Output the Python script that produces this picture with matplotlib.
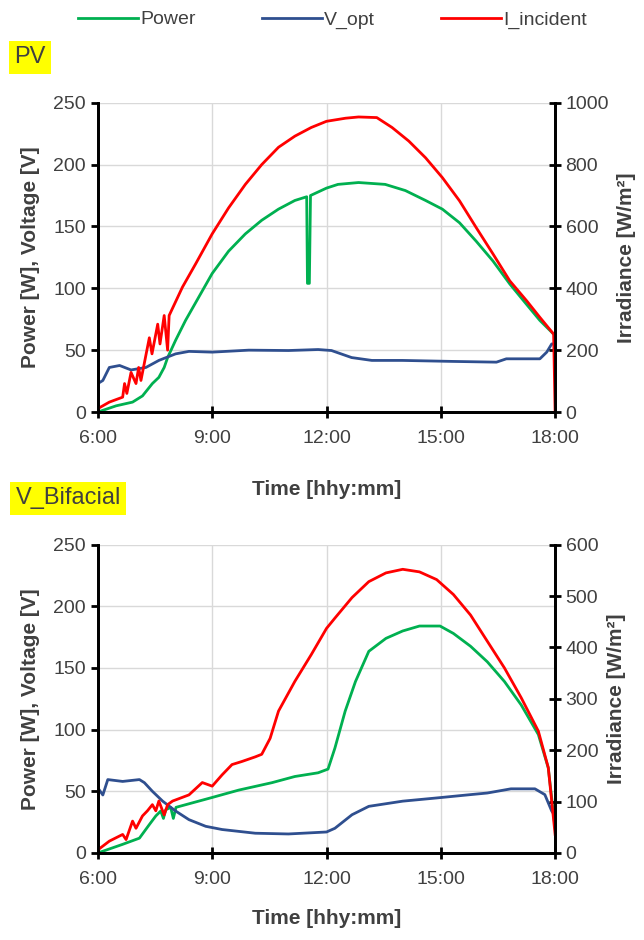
import matplotlib
matplotlib.use("Agg")
import matplotlib.pyplot as plt

plt.rcParams['font.family'] = ['Liberation Sans', 'DejaVu Sans']

# ---- PV (top) ----
pv_power_t = [6.0, 6.48, 6.91, 7.17, 7.43, 7.6, 7.74, 7.83, 8.04, 8.3, 8.65, 9.0, 9.43, 9.87,
              10.3, 10.74, 11.17, 11.48, 11.5, 11.55, 11.58, 12.0, 12.3, 12.84, 13.54, 14.07,
              14.6, 15.04, 15.49, 15.93, 16.37, 16.81, 17.25, 17.6, 17.96]
pv_power = [0, 5, 8, 13, 23, 28, 36, 44, 58, 74, 93, 112, 130, 144,
            155, 164, 171, 174, 104, 104, 175, 181, 184, 185.5, 184, 179,
            171, 164, 153, 138, 122, 103.5, 87, 74, 63]

pv_vopt_t = [6.0, 6.13, 6.3, 6.57, 6.87, 7.26, 7.6, 8.04, 8.39, 9.0, 9.96, 11.0, 11.78, 12.13,
             12.66, 13.19, 13.99, 15.3, 16.46, 16.72, 17.6, 17.78, 17.91, 18.0]
pv_vopt = [23, 25.5, 36, 37.6, 34, 36, 41.7, 47, 49, 48.4, 50, 49.7, 50.5, 49.7,
           44, 41.7, 41.7, 40.9, 40.3, 43, 43, 48.4, 55, 55]

pv_irr_t = [6.0, 6.3, 6.65, 6.7, 6.76, 6.87, 7.0, 7.07, 7.13, 7.35, 7.42, 7.57, 7.63, 7.74,
            7.83, 7.87, 8.22, 8.57, 9.0, 9.43, 9.87, 10.3, 10.74, 11.17, 11.6, 12.0,
            12.5, 12.84, 13.32, 13.72, 14.16, 14.6, 15.04, 15.49, 15.93, 16.37, 16.81, 17.25,
            17.6, 17.96, 18.0]
pv_irr = [11, 32, 48, 92, 60, 128, 92, 144, 102, 240, 188, 284, 220, 312,
          200, 312, 404, 480, 576, 660, 736, 800, 856, 892, 920, 940,
          950, 954, 952, 920, 876, 822, 758, 683, 596, 511, 424, 360,
          306, 252, 0]

# ---- V_Bifacial (bottom) ----
bf_power_t = [6.0, 6.65, 7.09, 7.35, 7.52, 7.65, 7.72, 7.78, 7.91, 7.98, 8.05, 9.0, 9.7, 10.57,
              11.17, 11.78, 12.04, 12.22, 12.49, 12.76, 13.11, 13.56, 14.0, 14.44, 14.98, 15.33,
              15.78, 16.22, 16.67, 17.11, 17.56, 17.82, 18.0]
bf_power = [0, 7, 12, 23, 30, 34, 28, 35, 37, 28, 37, 45, 51, 57,
            62, 65, 68, 85, 115, 139, 163.5, 174, 180, 184, 184, 178,
            167.6, 155, 139, 120, 96, 69, 20]

bf_vopt_t = [6.0, 6.13, 6.26, 6.65, 7.09, 7.22, 7.43, 7.7, 8.04, 8.39, 8.83, 9.26, 10.13, 11.0,
             12.0, 12.22, 12.67, 13.11, 14.0, 14.89, 15.78, 16.22, 16.84, 17.47, 17.73, 17.91, 18.0]
bf_vopt = [52.7, 47, 59.5, 58, 59.5, 57, 50, 42, 34, 27, 21.6, 19, 16, 15.4,
           17, 20, 31, 37.8, 42, 44.6, 47.3, 48.6, 52, 52, 47.3, 34, 30]

bf_irr_t = [6.0, 6.3, 6.65, 6.74, 6.91, 7.0, 7.17, 7.3, 7.43, 7.52, 7.6, 7.74, 7.83, 7.96,
            8.39, 8.74, 9.0, 9.26, 9.52, 9.78, 10.13, 10.3, 10.52, 10.74, 11.17, 11.6, 12.0,
            12.22, 12.67, 13.11, 13.56, 14.0, 14.44, 14.89, 15.33, 15.78, 16.22, 16.67, 17.11,
            17.56, 17.82, 18.0]
bf_irr = [6, 23, 36, 26, 62, 48, 72, 82, 94, 82, 101, 74, 94, 101,
          113, 137, 130, 152, 172, 178, 187, 192, 223, 276, 334, 386, 437,
          457, 497, 528, 545, 552, 547, 532, 503, 463, 412, 360, 302,
          237, 166, 36]

hour_ticks = [6, 9, 12, 15, 18]
hour_labels = ['6:00', '9:00', '12:00', '15:00', '18:00']

GREEN = '#00B050'
BLUE = '#2F4F8F'
RED = '#FF0000'
TXT = '#404040'

fig = plt.figure(figsize=(6.44, 9.4), dpi=100)


def panel(rect, pt, p, vt, v, it, irr, irr_max, irr_step, tag, tag_xy, xpad):
    ax = fig.add_axes(rect)
    ax2 = ax.twinx()
    l1, = ax.plot(pt, p, color=GREEN, lw=2, label='Power')
    l2, = ax.plot(vt, v, color=BLUE, lw=2, label='V_opt')
    l3, = ax2.plot(it, irr, color=RED, lw=2, label='I_incident')
    ax.set_xlim(6, 18)
    ax.set_ylim(0, 250)
    ax.set_yticks(range(0, 251, 50))
    ax2.set_ylim(0, irr_max)
    ax2.set_yticks(range(0, irr_max + 1, irr_step))
    ax.set_xticks(hour_ticks)
    ax.set_xticklabels(hour_labels)
    ax.grid(True, color='#d9d9d9', lw=1)
    ax.set_axisbelow(True)
    for a in (ax, ax2):
        a.spines['top'].set_visible(False)
        for s in ('left', 'right', 'bottom'):
            a.spines[s].set_linewidth(2)
            a.spines[s].set_color('black')
    ax.tick_params(axis='y', direction='out', length=5, width=2, labelsize=14,
                   color='black', labelcolor=TXT)
    ax.tick_params(axis='x', direction='inout', length=8, width=2, labelsize=14,
                   color='black', labelcolor=TXT, pad=9)
    ax2.tick_params(axis='y', direction='inout', length=8, width=2, labelsize=14,
                    color='black', labelcolor=TXT)
    ax.set_ylabel('Power [W], Voltage [V]', fontsize=15, fontweight='bold', color=TXT, labelpad=10)
    ax2.set_ylabel('Irradiance [W/m²]', fontsize=15, fontweight='bold', color=TXT, labelpad=6)
    ax.set_xlabel('Time [hhy:mm]', fontsize=15, fontweight='bold', color=TXT, labelpad=xpad)
    fig.text(tag_xy[0], tag_xy[1], tag, fontsize=17, color=TXT, ha='left', va='center',
             bbox=dict(facecolor='#FFFF00', edgecolor='none', pad=4))
    return [l1, l2, l3]


handles = panel([0.152, 0.5617, 0.710, 0.329], pv_power_t, pv_power, pv_vopt_t, pv_vopt,
                pv_irr_t, pv_irr, 1000, 200, 'PV', (0.022, 0.939), 24)
panel([0.152, 0.0926, 0.710, 0.328], bf_power_t, bf_power, bf_vopt_t, bf_vopt,
      bf_irr_t, bf_irr, 600, 100, 'V_Bifacial', (0.024, 0.47), 15)

fig.legend(handles=handles, loc='center', bbox_to_anchor=(0.516, 0.979), ncol=3, frameon=False,
           fontsize=14, handlelength=3.1, handletextpad=0.1, columnspacing=3.4,
           labelcolor=TXT)

fig.savefig('out.png', dpi=100)
